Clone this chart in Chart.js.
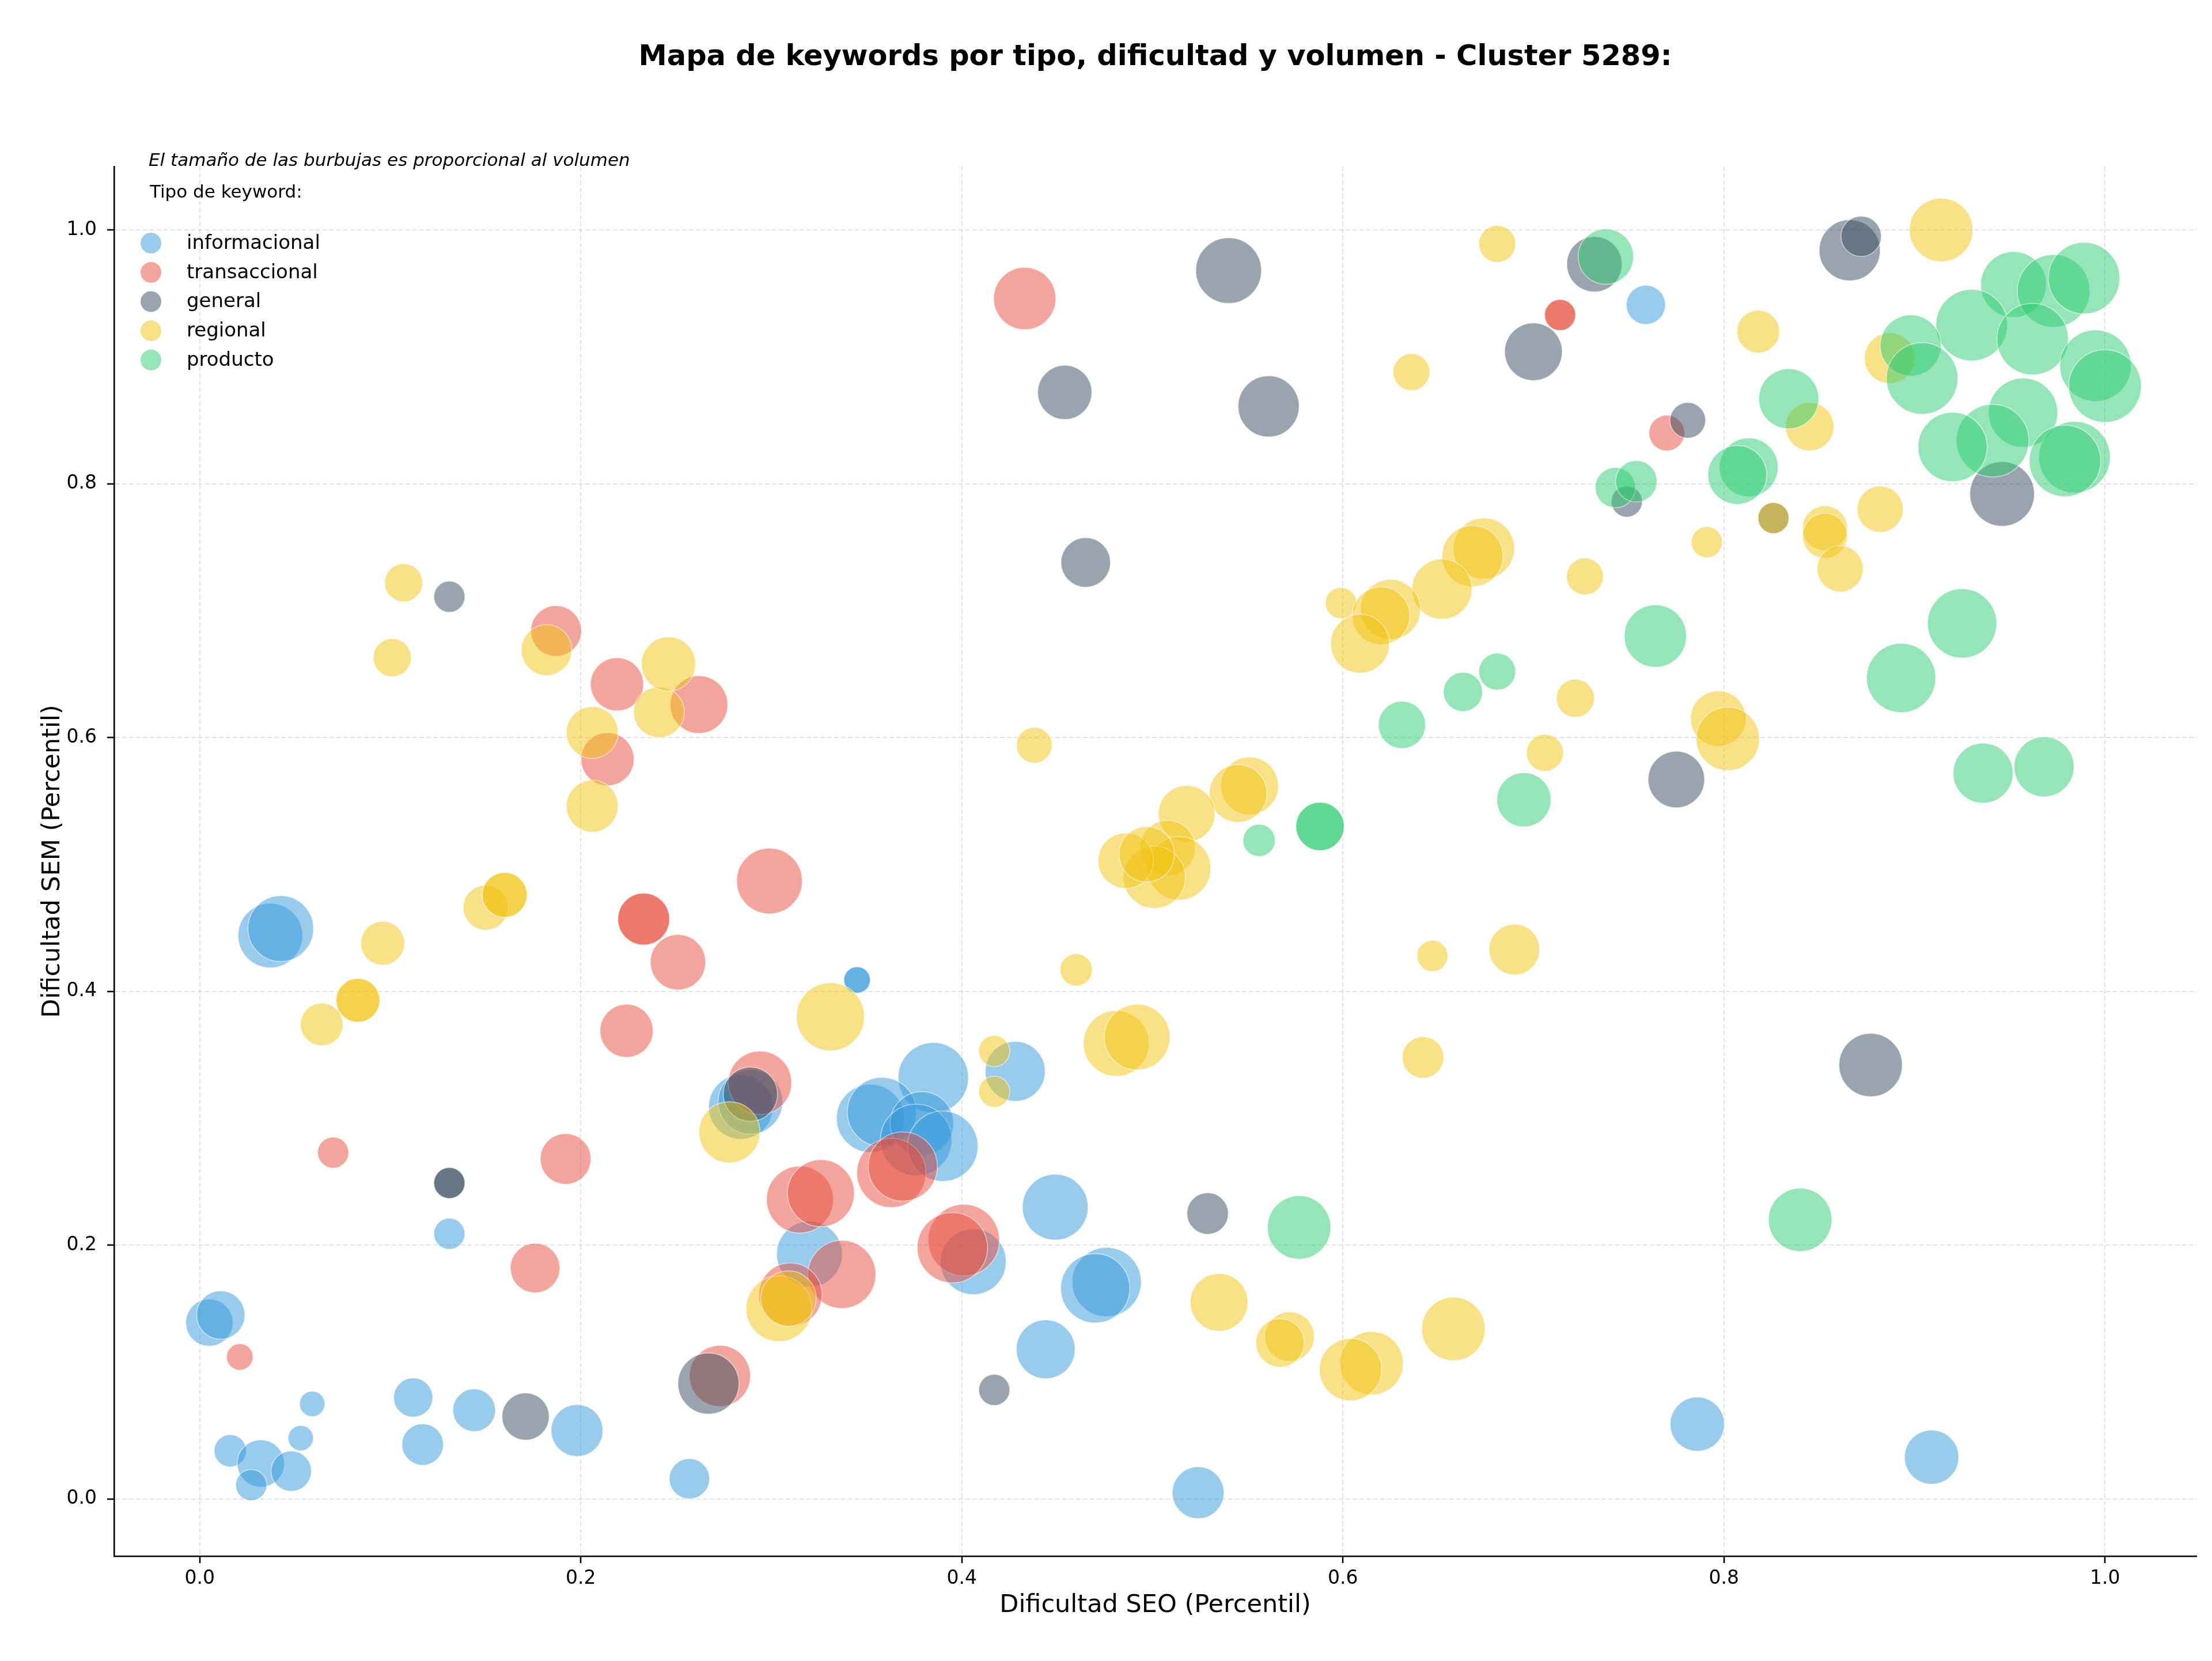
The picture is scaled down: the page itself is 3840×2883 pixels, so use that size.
<!DOCTYPE html>
<html>
<head>
<meta charset="utf-8">
<script src="https://cdn.jsdelivr.net/npm/chart.js@4.4.1/dist/chart.umd.min.js"></script>
<style>
  html, body { margin: 0; padding: 0; background: #fff; }
  canvas { display: block; }
</style>
</head>
<body>
<canvas id="keywordChart" width="3840" height="2883"></canvas>
<script>
const titleText = "Mapa de keywords por tipo, dificultad y volumen - Cluster 5289:";
const noteText = "El tamaño de las burbujas es proporcional al volumen";
const legendTitle = "Tipo de keyword:";

const categories = ["informacional", "transaccional", "general", "regional", "producto"];
const colors = ["#3498db", "#e74c3c", "#34495e", "#f1c40f", "#2ecc71"];

const tickValues = [0, 0.2, 0.4, 0.6, 0.8, 1.0];
const tickLabels = ["0.0", "0.2", "0.4", "0.6", "0.8", "1.0"];

// [dificultad SEO, dificultad SEM, volumen]
const informacional = [
  [0.759,0.941,289],[0.037,0.444,784],[0.0425,0.4495,812],[0.345,0.409,132],[0.345,0.409,132],
  [0.428,0.337,676],[0.385,0.332,930],[0.284,0.309,784],[0.289,0.313,784],[0.352,0.300,870],
  [0.358,0.305,900],[0.379,0.296,756],[0.376,0.283,961],[0.390,0.278,930],[0.131,0.209,182],
  [0.320,0.193,812],[0.406,0.187,812],[0.449,0.230,812],[0.476,0.171,900],[0.470,0.166,900],
  [0.444,0.118,650],[0.005,0.139,420],[0.011,0.145,441],[0.059,0.075,121],[0.053,0.048,121],
  [0.016,0.038,196],[0.032,0.028,420],[0.048,0.022,306],[0.027,0.011,182],[0.112,0.080,289],
  [0.117,0.043,324],[0.144,0.070,342],[0.198,0.054,506],[0.257,0.016,306],[0.524,0.005,506],
  [0.786,0.059,552],[0.909,0.033,552]
];

const transaccional = [
  [0.433,0.946,729],[0.714,0.933,182],[0.714,0.933,182],[0.770,0.840,240],[0.187,0.684,484],
  [0.219,0.642,529],[0.262,0.626,625],[0.214,0.583,529],[0.299,0.487,812],[0.233,0.457,506],
  [0.233,0.457,506],[0.251,0.423,576],[0.224,0.369,529],[0.294,0.328,756],[0.070,0.273,182],
  [0.192,0.268,484],[0.176,0.182,462],[0.021,0.112,132],[0.363,0.257,900],[0.369,0.262,900],
  [0.315,0.236,841],[0.326,0.241,841],[0.337,0.177,870],[0.310,0.161,756],[0.401,0.204,961],
  [0.395,0.198,930],[0.273,0.097,702]
];

const general = [
  [0.131,0.711,182],[0.454,0.872,552],[0.465,0.738,462],[0.540,0.968,812],[0.561,0.861,702],
  [0.732,0.973,576],[0.700,0.904,625],[0.781,0.850,240],[0.749,0.786,182],[0.866,0.984,702],
  [0.872,0.995,306],[0.946,0.792,784],[0.826,0.773,182],[0.775,0.567,600],[0.877,0.342,756],
  [0.529,0.225,324],[0.131,0.249,182],[0.131,0.249,182],[0.171,0.065,420],[0.289,0.319,552],
  [0.417,0.086,182],[0.267,0.091,702]
];

const regional = [
  [0.107,0.722,272],[0.681,0.989,256],[0.636,0.888,256],[0.674,0.749,702],[0.668,0.743,702],
  [0.652,0.717,676],[0.727,0.727,256],[0.599,0.706,182],[0.625,0.701,676],[0.620,0.696,625],
  [0.914,1.000,756],[0.818,0.920,342],[0.887,0.899,484],[0.845,0.845,441],[0.826,0.773,182],
  [0.791,0.754,182],[0.853,0.765,380],[0.853,0.759,380],[0.882,0.780,400],[0.861,0.733,400],
  [0.609,0.674,650],[0.722,0.631,272],[0.706,0.588,256],[0.797,0.615,576],[0.802,0.599,756],
  [0.551,0.562,625],[0.545,0.556,625],[0.518,0.540,600],[0.508,0.513,576],[0.514,0.497,756],
  [0.501,0.490,729],[0.486,0.503,576],[0.497,0.508,576],[0.438,0.594,240],[0.647,0.428,182],
  [0.690,0.433,484],[0.642,0.348,324],[0.481,0.359,812],[0.492,0.364,812],[0.460,0.417,196],
  [0.417,0.353,182],[0.417,0.321,182],[0.331,0.380,870],[0.101,0.663,272],[0.182,0.669,484],
  [0.241,0.620,484],[0.246,0.658,552],[0.206,0.604,506],[0.206,0.546,506],[0.096,0.438,361],
  [0.083,0.393,361],[0.083,0.393,361],[0.064,0.374,342],[0.150,0.466,380],[0.160,0.476,380],
  [0.160,0.476,380],[0.278,0.289,702],[0.304,0.150,812],[0.309,0.158,576],[0.535,0.155,625],
  [0.572,0.128,462],[0.567,0.123,441],[0.615,0.107,756],[0.604,0.102,729],[0.658,0.134,756]
];

const producto = [
  [0.738,0.979,576],[0.743,0.797,306],[0.754,0.802,324],[0.952,0.957,812],[0.973,0.952,992],
  [0.989,0.962,961],[0.930,0.925,961],[0.962,0.914,961],[0.898,0.909,702],[0.904,0.883,961],
  [0.995,0.893,961],[1.000,0.877,992],[0.957,0.856,900],[0.941,0.834,992],[0.920,0.829,900],
  [0.984,0.821,961],[0.979,0.818,961],[0.834,0.867,676],[0.813,0.813,650],[0.807,0.807,650],
  [0.925,0.690,900],[0.764,0.680,729],[0.681,0.652,256],[0.663,0.636,289],[0.631,0.610,420],
  [0.695,0.551,552],[0.588,0.530,441],[0.588,0.530,441],[0.556,0.519,196],[0.893,0.647,900],
  [0.936,0.572,676],[0.968,0.577,676],[0.840,0.220,756],[0.577,0.214,756]
];

const seriesList = [informacional, transaccional, general, regional, producto];

function withAlpha(hex, a) {
  const n = parseInt(hex.slice(1), 16);
  return "rgba(" + (n >> 16) + "," + ((n >> 8) & 255) + "," + (n & 255) + "," + a + ")";
}

Chart.defaults.font.family = "'DejaVu Sans', sans-serif";
Chart.defaults.color = "#000";

// title, note and legend inside the plot, like the original figure
const overlayText = {
  id: "overlayText",
  afterDraw(chart) {
    const ctx = chart.ctx;
    const area = chart.chartArea;
    ctx.save();
    ctx.fillStyle = "#000";
    ctx.textBaseline = "middle";

    ctx.textAlign = "center";
    ctx.font = "bold 49.5px 'DejaVu Sans'";
    ctx.fillText(titleText, (area.left + area.right) / 2, 100);

    ctx.textAlign = "left";
    ctx.font = "italic 31px 'DejaVu Sans'";
    ctx.fillText(noteText, area.left + 60, area.top - 9);

    ctx.font = "31px 'DejaVu Sans'";
    ctx.fillText(legendTitle, area.left + 62, area.top + 46);

    ctx.font = "34px 'DejaVu Sans'";
    categories.forEach((name, i) => {
      const y = area.top + 133 + i * 50.7;
      ctx.beginPath();
      ctx.arc(area.left + 64, y, 18, 0, Math.PI * 2);
      ctx.fillStyle = withAlpha(colors[i], 0.5);
      ctx.fill();
      ctx.fillStyle = "#000";
      ctx.fillText(name, area.left + 126, y + 1);
    });
    ctx.restore();
  }
};

const datasets = categories.map((name, i) => ({
  label: name,
  data: seriesList[i].map(p => ({ x: p[0], y: p[1], r: Math.sqrt(p[2]) * 2 })),
  backgroundColor: withAlpha(colors[i], 0.5),
  borderColor: "rgba(255,255,255,0.5)",
  borderWidth: 1.7,
  order: categories.length - i
}));

function axisOptions(min, max, titleTextAxis, titlePadding) {
  return {
    type: "linear",
    min: min,
    max: max,
    afterBuildTicks: scale => {
      scale.ticks = tickValues.map(v => ({ value: v }));
    },
    ticks: {
      callback: (value, index) => tickLabels[index],
      font: { size: 33 },
      color: "#000",
      maxRotation: 0
    },
    grid: {
      color: "rgba(176,176,176,0.35)",
      lineWidth: 2,
      tickColor: "#000",
      tickLength: 12,
      tickWidth: 2.6
    },
    border: {
      display: true,
      color: "#000",
      width: 2.6,
      dash: [8, 4]
    },
    title: {
      display: true,
      text: titleTextAxis,
      font: { size: 43 },
      color: "#000",
      padding: titlePadding
    }
  };
}

const xAxis = axisOptions(-0.045, 1.048, "Dificultad SEO (Percentil)", { top: 0, bottom: 38 });
xAxis.afterFit = scale => {
  scale.height = 150;
  scale.paddingLeft = 0;
  scale.paddingRight = 0;
};
xAxis.ticks.padding = 8;

const yAxis = axisOptions(-0.045, 1.05, "Dificultad SEM (Percentil)", { top: 66, bottom: 0 });
yAxis.afterFit = scale => {
  scale.width = 198;
  scale.paddingTop = 0;
  scale.paddingBottom = 0;
};
yAxis.ticks.padding = 18;

new Chart(document.getElementById("keywordChart"), {
  type: "bubble",
  data: { datasets: datasets },
  options: {
    responsive: false,
    devicePixelRatio: 1,
    animation: false,
    events: [],
    layout: {
      autoPadding: false,
      padding: { top: 289, right: 27, bottom: 32, left: 0 }
    },
    plugins: {
      legend: { display: false },
      title: { display: false },
      tooltip: { enabled: false }
    },
    scales: {
      x: xAxis,
      y: yAxis
    }
  },
  plugins: [overlayText]
});
</script>
</body>
</html>
